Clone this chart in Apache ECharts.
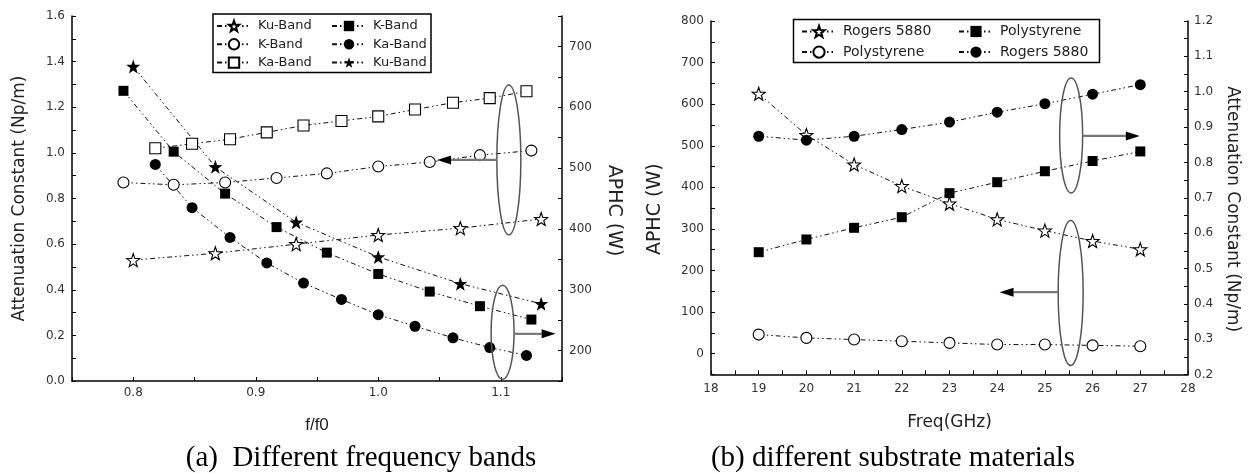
<!DOCTYPE html>
<html><head><meta charset="utf-8">
<script src="https://cdn.jsdelivr.net/npm/echarts@6/dist/echarts.min.js"></script>
<style>html,body{margin:0;padding:0;background:#fff}#c{width:1251px;height:473px}</style>
</head><body><div id="c"></div>
<script>
// ---------- Panel (a): different frequency bands (x = f/f0) ----------
const kuX = [0.800, 0.867, 0.933, 1.000, 1.067, 1.133];
const kX  = [0.792, 0.833, 0.875, 0.917, 0.958, 1.000, 1.042, 1.083, 1.125];
const kaX = [0.818, 0.848, 0.879, 0.909, 0.939, 0.970, 1.000, 1.030, 1.061, 1.091, 1.121];
// attenuation constant (Np/m), left axis, open markers
const kuAtt = [0.53, 0.56, 0.60, 0.64, 0.67, 0.71];
const kAtt  = [0.87, 0.86, 0.87, 0.89, 0.91, 0.94, 0.96, 0.99, 1.01];
const kaAtt = [1.02, 1.04, 1.06, 1.09, 1.12, 1.14, 1.16, 1.19, 1.22, 1.24, 1.27];
// APHC (W), right axis, filled markers
const kAphc  = [627, 527, 458, 403, 361, 326, 297, 273, 251];
const kaAphc = [506, 435, 386, 344, 311, 284, 259, 240, 221, 205, 192];
const kuAphc = [667, 502, 411, 354, 310, 277];

// ---------- Panel (b): different substrate materials ----------
const freq = [19, 20, 21, 22, 23, 24, 25, 26, 27];
const rogersAphc = [625, 526, 455, 403, 361, 323, 296, 271, 251];
const polyAphc   = [46, 38, 34, 30, 26, 22, 22, 20, 18];
const polyAtt    = [0.546, 0.582, 0.615, 0.645, 0.713, 0.744, 0.775, 0.804, 0.831];
const rogersAtt  = [0.874, 0.863, 0.874, 0.893, 0.914, 0.942, 0.966, 0.993, 1.020];

// tick label formatters
const ratioTicks = v => { const r = Math.round(v * 10); return Math.abs(v * 10 - r) < 1e-6 ? (r / 10).toFixed(1) : ''; };
const hundredTicks = v => (Math.abs(v % 100) < 1e-6 ? String(Math.round(v)) : '');
const oneDec = v => v.toFixed(1);

const STAR = 'path://M0,-10L2.35,-3.24L9.51,-3.09L3.8,1.24L5.88,8.09L0,4.2L-5.88,8.09L-3.8,1.24L-9.51,-3.09L-2.35,-3.24Z';
const DASH = [5, 3, 1.5, 3, 1.5, 3];

function series(name, xs, ys, xi, yi, symbol, filled, size) {
  return {
    type: 'line', name: name, xAxisIndex: xi, yAxisIndex: yi,
    data: xs.map((x, i) => [x, ys[i]]),
    symbol: symbol, symbolSize: size, showSymbol: true,
    lineStyle: { color: '#111', width: 1, type: DASH },
    itemStyle: { color: filled ? '#000' : '#fff', borderColor: '#000', borderWidth: filled ? 0 : 1.1 },
    emphasis: { disabled: true }, silent: true, z: 3
  };
}

function axis(o) {
  const a = {
    type: 'value', gridIndex: o.grid, min: o.min, max: o.max, interval: o.interval,
    position: o.position,
    axisLine: { show: true, onZero: false, lineStyle: { color: '#000', width: 1.5 } },
    axisTick: { show: true, inside: true, length: 4, lineStyle: { color: '#000', width: 1 } },
    splitLine: { show: false },
    axisLabel: { fontFamily: 'DejaVu Sans', fontSize: 12, color: '#333', margin: o.margin || 6, formatter: o.fmt },
    name: o.name, nameLocation: 'middle', nameGap: o.gap,
    nameTextStyle: { fontFamily: o.nameFont || 'DejaVu Sans', fontSize: o.nameSize || 17, color: '#222', padding: o.pad || 0 }
  };
  if (o.rot !== undefined) a.nameRotate = o.rot;
  if (o.minor) a.minorTick = { show: true, splitNumber: 2, length: 4, lineStyle: { color: '#000', width: 1 } };
  return a;
}

const legendText = n => n.split('#')[0];
function legend(names, left, top, size, gap, fs) {
  return {
    data: names, orient: 'vertical', left: left, top: top, padding: 0,
    itemWidth: 34, itemHeight: size, itemGap: gap, selectedMode: false,
    formatter: legendText,
    textStyle: { fontFamily: 'DejaVu Sans', fontSize: fs, color: '#222', padding: [0, 0, 0, 2] }
  };
}

const chart = echarts.init(document.getElementById('c'), null, { renderer: 'canvas' });
chart.setOption({
  animation: false,
  backgroundColor: '#fff',
  grid: [
    { left: 72, right: 689, top: 16, bottom: 92 },
    { left: 711, right: 63, top: 21, bottom: 98.5 }
  ],
  xAxis: [
    axis({ grid: 0, min: 0.75, max: 1.15, interval: 0.05, position: 'bottom', fmt: ratioTicks, margin: 6,
           name: 'f/f0', gap: 36, nameFont: 'Liberation Sans', nameSize: 17 }),
    axis({ grid: 1, min: 18, max: 28, interval: 1, position: 'bottom', minor: true, margin: 8,
           name: 'Freq(GHz)', gap: 40, nameSize: 17 })
  ],
  yAxis: [
    axis({ grid: 0, min: 0, max: 1.6, interval: 0.2, position: 'left', fmt: oneDec, minor: true, margin: 7,
           name: 'Attenuation Constant (Np/m)', gap: 44, nameSize: 17 }),
    axis({ grid: 0, min: 150, max: 750, interval: 50, position: 'right', fmt: hundredTicks, margin: 7,
           name: 'APHC (W)', gap: 42, nameSize: 19, rot: -90, pad: [0, 0, 0, 24] }),
    axis({ grid: 1, min: -50, max: 800, interval: 50, position: 'left', fmt: hundredTicks, margin: 7,
           name: 'APHC (W)', gap: 46, nameSize: 19, pad: [0, 23, 0, 0] }),
    axis({ grid: 1, min: 0.2, max: 1.2, interval: 0.1, position: 'right', fmt: oneDec, minor: true, margin: 6,
           name: 'Attenuation Constant (Np/m)', gap: 36, nameSize: 17, rot: -90, pad: [0, 0, 0, 23] })
  ],
  legend: [
    legend(['Ku-Band#o', 'K-Band#o', 'Ka-Band#o'], 216, 19.5, 13, 5.3, 13),
    legend(['K-Band#f', 'Ka-Band#f', 'Ku-Band#f'], 331, 19.5, 13, 5.3, 13),
    legend(['Rogers 5880#o', 'Polystyrene#o'], 801, 24.5, 14, 6.6, 14),
    legend(['Polystyrene#f', 'Rogers 5880#f'], 958, 24.5, 14, 6.6, 14)
  ],
  series: [
    series('Ku-Band#o', kuX, kuAtt, 0, 0, STAR, false, 13),
    series('K-Band#o',  kX,  kAtt,  0, 0, 'circle', false, 11),
    series('Ka-Band#o', kaX, kaAtt, 0, 0, 'rect', false, 11),
    series('K-Band#f',  kX,  kAphc,  0, 1, 'rect', true, 10),
    series('Ka-Band#f', kaX, kaAphc, 0, 1, 'circle', true, 11),
    series('Ku-Band#f', kuX, kuAphc, 0, 1, STAR, true, 14),
    series('Rogers 5880#o', freq, rogersAphc, 1, 2, STAR, false, 13),
    series('Polystyrene#o', freq, polyAphc,  1, 2, 'circle', false, 11),
    series('Polystyrene#f', freq, polyAtt,   1, 3, 'rect', true, 10),
    series('Rogers 5880#f', freq, rogersAtt, 1, 3, 'circle', true, 11)
  ]
});

// ---------- annotations (ellipses + arrows), anchored in data coordinates ----------
const notes = [
  { xi: 0, yi: 0, x: 1.1066, y: 0.969, rx: 12, ry: 75, to: [1.048, 0.969] },
  { xi: 0, yi: 1, x: 1.1015, y: 230,   rx: 11.5, ry: 47, to: [1.1448, 227.5] },
  { xi: 1, yi: 3, x: 25.55,  y: 0.876, rx: 11.5, ry: 57.5, to: [26.99, 0.875] },
  { xi: 1, yi: 2, x: 25.54,  y: 146,   rx: 12.5, ry: 72.5, to: [24.05, 148] }
];
const g = [];
notes.forEach(n => {
  const c = chart.convertToPixel({ xAxisIndex: n.xi, yAxisIndex: n.yi }, [n.x, n.y]);
  const t = chart.convertToPixel({ xAxisIndex: n.xi, yAxisIndex: n.yi }, n.to);
  g.push({ type: 'ellipse', silent: true, shape: { cx: c[0], cy: c[1], rx: n.rx, ry: n.ry },
           style: { fill: null, stroke: '#555', lineWidth: 1.5 }, z: 10 });
  const dir = t[0] < c[0] ? -1 : 1;
  const sx = c[0] + dir * n.rx;
  const head = 14;
  g.push({ type: 'line', silent: true, shape: { x1: sx, y1: t[1], x2: t[0] - dir * head, y2: t[1] },
           style: { stroke: '#777', lineWidth: 2.2 }, z: 10 });
  g.push({ type: 'polygon', silent: true,
           shape: { points: [[t[0], t[1]], [t[0] - dir * head, t[1] - 4.5], [t[0] - dir * head, t[1] + 4.5]] },
           style: { fill: '#000' }, z: 10 });
});
// legend frames
g.push({ type: 'rect', silent: true, shape: { x: 213, y: 14, width: 218, height: 58.5 },
         style: { fill: null, stroke: '#000', lineWidth: 1.5 }, z: 1 });
g.push({ type: 'rect', silent: true, shape: { x: 793.5, y: 19.5, width: 306, height: 43 },
         style: { fill: null, stroke: '#000', lineWidth: 1.5 }, z: 1 });
// captions
g.push({ type: 'text', silent: true, x: 361, y: 458,
         style: { text: '(a)  Different frequency bands', font: '29px "Liberation Serif"', fill: '#000', align: 'center', verticalAlign: 'middle' } });
g.push({ type: 'text', silent: true, x: 893, y: 458,
         style: { text: '(b) different substrate materials', font: '29px "Liberation Serif"', fill: '#000', align: 'center', verticalAlign: 'middle' } });
chart.setOption({ graphic: g });
</script>
</body></html>
